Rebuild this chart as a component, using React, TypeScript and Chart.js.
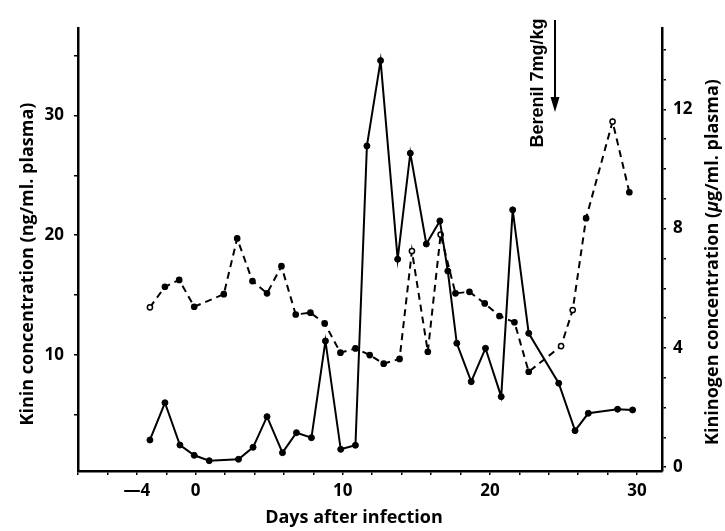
import React, { useEffect, useRef } from "react";
import { Chart, registerables } from "chart.js";

Chart.register(...registerables);

// Days after infection (x positions of each observation)
const kininDays = [-3.11, -2.09, -1.07, -0.1, 0.92, 2.91, 3.9, 4.85, 5.9, 6.85, 7.87, 8.82, 9.86, 10.86, 11.64, 12.57, 13.73, 14.59, 15.68, 16.6, 17.14, 17.75, 18.73, 19.7, 20.77, 21.55, 22.64, 24.68, 25.79, 26.69, 28.68, 29.7];
// Kinin concentration (ng/ml plasma) - left axis, solid line
const kininValues = [2.89, 6.0, 2.47, 1.61, 1.16, 1.28, 2.28, 4.84, 1.83, 3.5, 3.08, 11.16, 2.11, 2.45, 27.45, 34.58, 17.99, 26.84, 19.26, 21.19, 17.0, 10.97, 7.76, 10.55, 6.51, 22.11, 11.8, 7.63, 3.67, 5.12, 5.46, 5.4];

const kininogenDays = [-3.11, -2.09, -1.12, -0.1, 1.91, 2.82, 3.86, 4.85, 5.83, 6.8, 7.8, 8.77, 9.84, 10.86, 11.83, 12.78, 13.86, 14.7, 15.78, 16.65, 17.66, 18.61, 19.65, 20.65, 21.67, 22.64, 24.84, 25.63, 26.54, 28.34, 29.48];
// Kininogen concentration (ug/ml plasma) - right axis, dashed line
const kininogenValues = [5.36, 6.05, 6.28, 5.38, 5.8, 7.67, 6.24, 5.83, 6.74, 5.12, 5.18, 4.82, 3.84, 3.98, 3.76, 3.47, 3.63, 7.25, 3.87, 7.8, 5.83, 5.88, 5.49, 5.07, 4.86, 3.2, 4.06, 5.27, 8.35, 11.59, 9.22];
// open (hollow) markers on the kininogen series
const kininogenOpen = [true, false, false, false, false, false, false, false, false, false, false, false, false, false, false, false, false, true, false, true, false, false, false, false, false, false, true, true, false, true, false];

const xTicks = [-8, -6, -4, -2, 0, 2, 4, 6, 8, 10, 12, 14, 16, 18, 20, 22, 24, 26, 28, 30];
const xLabels: Record<number, string> = { [-4]: "\u20144", 0: "0", 10: "10", 20: "20", 30: "30" };
const leftTicks = [5, 10, 15, 20, 25, 30, 35];
const leftLabels = [10, 20, 30];
const rightTicks = [0, 1, 2, 3, 4, 5, 6, 7, 8, 9, 10, 11, 12, 13, 14];
const rightLabels = [0, 4, 8, 12];

const leftTitle = "Kinin concentration (ng/ml. plasma)";
const rightTitleA = "Kininogen concentration (";
const rightTitleMu = "\u03bc";
const rightTitleB = "g/ml. plasma)";
const xTitle = "Days after infection";
const annotation = "Berenil 7mg/kg";

const FONT = '"Open Sans", "DejaVu Sans", sans-serif';

const textPlugin = {
  id: "texts",
  afterDraw(chart: any) {
    const ctx = chart.ctx as CanvasRenderingContext2D;
    ctx.save();
    ctx.fillStyle = "#000";
    ctx.textAlign = "center";
    ctx.textBaseline = "middle";

    // left title
    ctx.save();
    ctx.translate(28, 264);
    ctx.rotate(-Math.PI / 2);
    ctx.font = `bold 18px ${FONT}`;
    ctx.fillText(leftTitle, 0, 0);
    ctx.restore();

    // right title with italic mu
    ctx.save();
    ctx.translate(713, 262);
    ctx.rotate(-Math.PI / 2);
    ctx.textAlign = "left";
    const fN = `bold 18px ${FONT}`;
    const fI = `italic bold 18px ${FONT}`;
    ctx.font = fN;
    const wA = ctx.measureText(rightTitleA).width;
    const wB = ctx.measureText(rightTitleB).width;
    ctx.font = fI;
    const wM = ctx.measureText(rightTitleMu).width;
    let x0 = -(wA + wM + wB) / 2;
    ctx.font = fN;
    ctx.fillText(rightTitleA, x0, 0);
    x0 += wA;
    ctx.font = fI;
    ctx.fillText(rightTitleMu, x0, 0);
    x0 += wM;
    ctx.font = fN;
    ctx.fillText(rightTitleB, x0, 0);
    ctx.restore();

    // bottom title
    ctx.font = `bold 18px ${FONT}`;
    ctx.fillText(xTitle, 354, 518);

    // Berenil annotation
    ctx.save();
    ctx.translate(538, 83);
    ctx.rotate(-Math.PI / 2);
    ctx.font = `bold 18px "Liberation Sans", Arial, sans-serif`;
    ctx.fillText(annotation, 0, 0);
    ctx.restore();

    // arrow
    ctx.strokeStyle = "#000";
    ctx.lineWidth = 2;
    ctx.beginPath();
    ctx.moveTo(555, 20);
    ctx.lineTo(555, 100);
    ctx.stroke();
    ctx.beginPath();
    ctx.moveTo(550.5, 97);
    ctx.lineTo(559.5, 97);
    ctx.lineTo(555, 112);
    ctx.closePath();
    ctx.fill();

    ctx.restore();
  },
};

export default function App() {
  const ref = useRef<HTMLCanvasElement | null>(null);

  useEffect(() => {
    if (!ref.current) return;
    document.body.style.margin = "0";
    const tickFont = { family: FONT, size: 17, weight: "bold" as const };
    const chart = new Chart(ref.current, {
      type: "line",
      data: {
        datasets: [
          {
            label: "Kinin",
            data: kininDays.map((d, i) => ({ x: d, y: kininValues[i] })),
            yAxisID: "y",
            borderColor: "#000",
            borderWidth: 2,
            pointRadius: 3,
            pointBackgroundColor: "#000",
            pointBorderColor: "#000",
            pointBorderWidth: 1,
            tension: 0,
          },
          {
            label: "Kininogen",
            data: kininogenDays.map((d, i) => ({ x: d, y: kininogenValues[i] })),
            yAxisID: "y1",
            borderColor: "#000",
            borderWidth: 2,
            borderDash: [7, 5],
            pointRadius: 2.6,
            pointBackgroundColor: kininogenOpen.map((o) => (o ? "#fff" : "#000")),
            pointBorderColor: "#000",
            pointBorderWidth: 1.5,
            tension: 0,
          },
        ],
      },
      options: {
        responsive: false,
        animation: false,
        events: [],
        layout: { padding: { top: 28, left: 0, right: 0, bottom: 0 } },
        plugins: { legend: { display: false }, tooltip: { enabled: false } },
        scales: {
          x: {
            type: "linear",
            min: -8,
            max: 31.7,
            afterBuildTicks: (s: any) => {
              s.ticks = xTicks.map((v) => ({ value: v }));
            },
            afterFit: (s: any) => {
              s.height = 60;
            },
            ticks: {
              autoSkip: false,
              maxRotation: 0,
              color: "#000",
              font: tickFont,
              padding: 6,
              callback: (v: any) => xLabels[Number(v)] ?? "",
            },
            grid: { drawOnChartArea: false, drawTicks: true, tickLength: 4, color: "#000", lineWidth: 1.5 },
            border: { display: true, color: "#000", width: 2.5 },
          },
          y: {
            type: "linear",
            position: "left",
            min: 0.3,
            max: 37.3,
            afterBuildTicks: (s: any) => {
              s.ticks = leftTicks.map((v) => ({ value: v }));
            },
            afterFit: (s: any) => {
              s.width = 78;
            },
            ticks: {
              autoSkip: false,
              color: "#000",
              font: tickFont,
              padding: 10,
              callback: (v: any) => (leftLabels.includes(Number(v)) ? String(v) : ""),
            },
            grid: { drawOnChartArea: false, drawTicks: true, tickLength: 4, color: "#000", lineWidth: 1.5 },
            border: { display: true, color: "#000", width: 2.5 },
          },
          y1: {
            type: "linear",
            position: "right",
            min: -0.13,
            max: 14.73,
            afterBuildTicks: (s: any) => {
              s.ticks = rightTicks.map((v) => ({ value: v }));
            },
            afterFit: (s: any) => {
              s.width = 63;
            },
            ticks: {
              autoSkip: false,
              color: "#000",
              font: tickFont,
              padding: 7,
              callback: (v: any) => (rightLabels.includes(Number(v)) ? String(v) : ""),
            },
            grid: { drawOnChartArea: false, drawTicks: true, tickLength: 4, color: "#000", lineWidth: 1.5 },
            border: { display: true, color: "#000", width: 2.5 },
          },
        },
      },
      plugins: [textPlugin],
    });
    return () => chart.destroy();
  }, []);

  return (
    <div style={{ position: "absolute", left: 0, top: 0, width: 725, height: 531, background: "#fff" }}>
      <canvas ref={ref} width={725} height={531} style={{ display: "block" }} />
    </div>
  );
}
